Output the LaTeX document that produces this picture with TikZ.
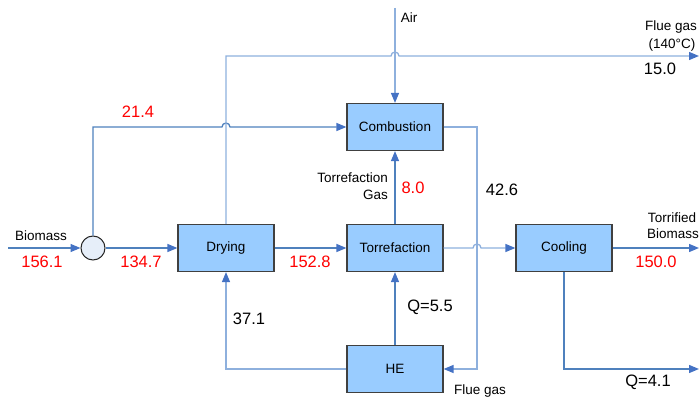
\documentclass[tikz,border=0pt]{standalone}
\usepackage{fontspec}
\setmainfont{Liberation Sans}
\usetikzlibrary{arrows.meta,calc}
\definecolor{boxblue}{HTML}{99CCFF}
\definecolor{linedark}{HTML}{4F81BD}
\definecolor{linelight}{HTML}{8EB0DD}
\definecolor{tipblue}{HTML}{4472C4}
\definecolor{mixfill}{HTML}{E6EEF9}
\tikzset{
  unit/.style={draw=black!75, fill=boxblue, line width=1.2pt, minimum width=96pt, minimum height=47pt, inner sep=0pt, font=\fontsize{13.5}{15}\selectfont},
  mixer/.style={circle, draw=black!85, fill=mixfill, line width=1pt, minimum size=24pt, inner sep=0pt},
  flow/.style={draw=linedark, line width=1.3pt, -{Triangle[length=10pt,width=8pt,color=tipblue]}},
  lflow/.style={flow, draw=linelight},
  lab/.style={font=\fontsize{13.5}{15}\selectfont, inner sep=0pt},
  num/.style={font=\fontsize{16.5}{18}\selectfont, inner sep=0pt},
  val/.style={num, text=red}
}
\begin{document}
\begin{tikzpicture}[x=1pt,y=-1pt]
    \useasboundingbox (0,0) rectangle (699,401);
    % process units
    \node[unit] (comb) at (395,127) {Combustion};
    \node[unit] (dry) at (226,248) {Drying};
    \node[unit] (torr) at (395,248) {Torrefaction};
    \node[unit] (cool) at (564,248) {Cooling};
    \node[unit] (he) at (395,369) {HE};
    \node[mixer] (mix) at (93,248) {};
    % free ends and line hops
    \coordinate (bioin) at (8,248);
    \coordinate (air) at (395,8);
    \coordinate (flueout) at (699,56);
    \coordinate (prodout) at (699,248);
    \coordinate (qout) at (699,369);
    \coordinate (fgturn) at (477,369);
    \coordinate (hopa) at (226,127);
    \coordinate (hopb) at (395,56);
    \coordinate (hopc) at (477,248);
    % main solid stream
    \draw[flow] (bioin) -- (mix);
    \draw[flow] (mix) -- (dry);
    \draw[flow] (dry) -- (torr);
    \draw[flow] (torr) -- (comb);
    \draw[flow] (he) -- (torr);
    \draw[flow] (mix.north) |- ($(hopa)+(-4,0)$) arc[start angle=180,end angle=0,radius=4pt] -- (comb.west);
    \draw[lflow] (torr.east) -- ($(hopc)+(-4,0)$) arc[start angle=180,end angle=0,radius=4pt] -- (cool.west);
    \draw[flow] (cool) -- (prodout);
    \draw[flow] (cool.south) |- (qout);
    % gas and heat streams
    \draw[lflow] (air) -- (comb);
    \draw[lflow] (dry.north) |- ($(hopb)+(-4,0)$) arc[start angle=180,end angle=0,radius=4pt] -- (flueout);
    \draw[lflow] (comb.east) -| (fgturn) -- (he.east);
    \draw[lflow] (he.west) -| (dry.south);
    % stream labels
    \node[lab] (tbio) at (41,236) {Biomass};
    \node[val] (vbio) at (42,262) {156.1};
    \node[val] (vmix) at (141,262) {134.7};
    \node[val] (vdry) at (310,262) {152.8};
    \node[num] (vhedry) at (249,319) {37.1};
    \node[val] (vbyp) at (138,112) {21.4};
    \node[lab] (tair) at (409,18) {Air};
    \node[lab] (tflue) at (671,27) {Flue gas};
    \node[lab] (ttemp) at (672,45) {(140°C)};
    \node[num] (vflue) at (660,69) {15.0};
    \node[lab,anchor=east] (ttg) at (388,178) {Torrefaction};
    \node[lab,anchor=east] (tgas) at (388,195) {Gas};
    \node[val] (vtg) at (413,188) {8.0};
    \node[num] (vcomb) at (502,190) {42.6};
    \node[lab] (tprod) at (672,218) {Torrified};
    \node[lab] (tprodb) at (673,234) {Biomass};
    \node[val] (vprod) at (656,262) {150.0};
    \node[num] (vqt) at (430,307) {Q=5.5};
    \node[num] (vqc) at (648,382) {Q=4.1};
    \node[lab] (tfgh) at (480,391) {Flue gas};
\end{tikzpicture}
\end{document}
